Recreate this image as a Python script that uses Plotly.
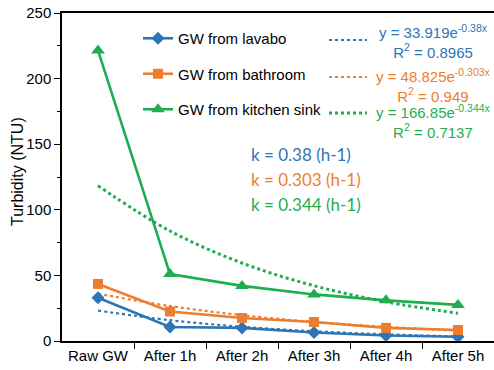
import numpy as np
import plotly.graph_objects as go

categories = ["Raw GW", "After 1h", "After 2h", "After 3h", "After 4h", "After 5h"]
series_names = ["GW from lavabo", "GW from bathroom", "GW from kitchen sink"]
lavabo = [33, 10.7, 10, 6.5, 4.2, 3.2]
bathroom = [43.5, 22.5, 17.5, 14.5, 10, 8.4]
kitchen = [221.5, 51, 42, 35.5, 31, 27.5]
fit_a = [33.919, 48.825, 166.85]
fit_k = [0.38, 0.303, 0.344]
fit_r2 = ["0.8965", "0.949", "0.7137"]
k_labels = ["0.38", "0.303", "0.344"]

colors = ["#2E75B6", "#ED7D31", "#1EAE50"]
symbols = ["diamond", "square", "triangle-up"]
msizes = [10, 10, 12]

W, H = 494, 370
L, R, T, B = 62, 0, 13, 29
pw, ph = W - L - R, H - T - B

def px_x(x):
    return (x - L) / pw

def px_y(y):
    return (H - B - y) / ph

fig = go.Figure()
xs = list(range(len(categories)))
values = [lavabo, bathroom, kitchen]

for i in range(3):
    xt = np.array(xs, dtype=float)
    yt = fit_a[i] * np.exp(-fit_k[i] * (xt + 1))
    fig.add_trace(go.Scatter(
        x=xt, y=yt, mode="lines", line_shape="spline",
        line=dict(color=colors[i], width=3 if i == 2 else 2.2, dash="dot"),
        showlegend=False, hoverinfo="skip"))

for i in range(3):
    fig.add_trace(go.Scatter(
        x=xs, y=values[i], mode="lines+markers", name=series_names[i],
        legendgroup=series_names[i],
        line=dict(color=colors[i], width=2.6),
        marker=dict(symbol=symbols[i], size=msizes[i], color=colors[i])))

# trendline legend samples and equations
sample_y = [40, 77, 113]
eq_top = [20, 64, 100]
for i in range(3):
    fig.add_shape(type="line", xref="paper", yref="paper",
                  x0=px_x(329), x1=px_x(367), y0=px_y(sample_y[i]), y1=px_y(sample_y[i]),
                  line=dict(color=colors[i], width=3 if i == 2 else 2, dash="dot"))
    fig.add_annotation(
        xref="paper", yref="paper", x=px_x(433), y=px_y(eq_top[i]),
        xanchor="center", yanchor="top", align="center", showarrow=False,
        text=f"y = {fit_a[i]}e<sup>-{fit_k[i]}x</sup><br>R<sup>2</sup> = {fit_r2[i]}",
        font=dict(family="Liberation Sans, Arial", size=15, color=colors[i]))

k_y = [154, 179, 204]
for i in range(3):
    fig.add_annotation(
        xref="paper", yref="paper", x=px_x(249), y=px_y(k_y[i]),
        xanchor="left", yanchor="middle", showarrow=False,
        text=f"k = {k_labels[i]} (h-1)",
        font=dict(family="Lato, Carlito", size=17, color=colors[i]))

fig.add_annotation(
    xref="paper", yref="paper", x=px_x(17), y=px_y(172),
    xanchor="center", yanchor="middle", showarrow=False, textangle=-90,
    text="Turbidity (NTU)", font=dict(family="Liberation Sans, Arial", size=16, color="black"))

fig.update_layout(
    width=W, height=H,
    margin=dict(l=L, r=R, t=T, b=B),
    paper_bgcolor="white", plot_bgcolor="white",
    font=dict(family="Liberation Sans, Arial", size=15, color="black"),
    legend=dict(x=px_x(138), y=px_y(22), xanchor="left", yanchor="top",
                tracegroupgap=13, bgcolor="rgba(0,0,0,0)",
                font=dict(size=15)),
    xaxis=dict(range=[-0.5, 5.5], tickmode="array", tickvals=xs, ticktext=categories,
               ticks="", showline=True, linecolor="black", linewidth=1.5, mirror=True,
               showgrid=False, zeroline=False,
               minor=dict(tickmode="array", tickvals=[0.5, 1.5, 2.5, 3.5, 4.5],
                          ticks="outside", ticklen=6, tickcolor="black", tickwidth=1.2)),
    yaxis=dict(range=[0, 250], dtick=50, ticks="outside", ticklen=6, tickwidth=1.2,
               tickcolor="black", showline=True, linecolor="black", linewidth=1.5,
               showgrid=False, zeroline=False,
               minor=dict(dtick=25, ticks="outside", ticklen=3, tickcolor="black", tickwidth=1.2)),
)

fig.write_html("out.html")
